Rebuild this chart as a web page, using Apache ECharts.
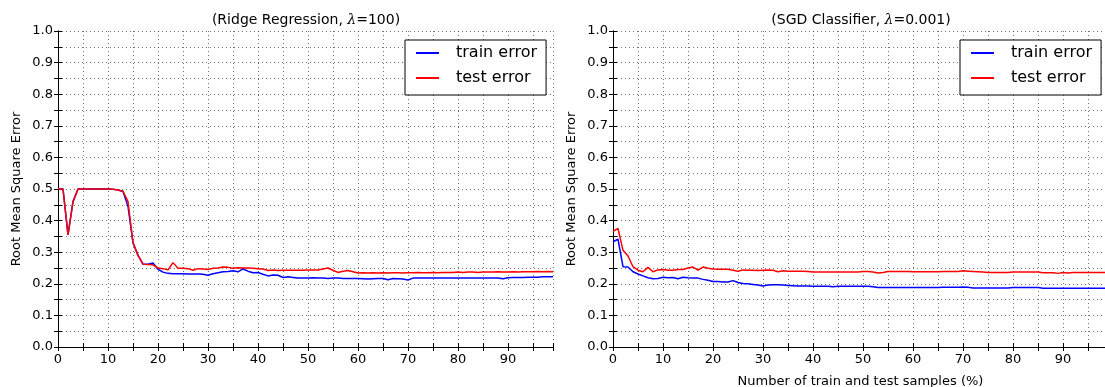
<!DOCTYPE html>
<html>
<head>
<meta charset="utf-8">
<title>Learning curves</title>
<script src="https://cdn.jsdelivr.net/npm/echarts@6/dist/echarts.min.js"></script>
<style>
  html, body { margin: 0; padding: 0; background: #fff; }
  #learning-curves { width: 1105px; height: 387px; }
</style>
</head>
<body>
<div id="learning-curves"></div>
<script>
"use strict";

// ------------------------------
// Data (x = % of train and test samples, 0..99)
// ------------------------------
var seriesNames = ['train error', 'test error'];
var xTickLabels = [0, 10, 20, 30, 40, 50, 60, 70, 80, 90];
var yTickLabels = ['0.0', '0.1', '0.2', '0.3', '0.4', '0.5', '0.6', '0.7', '0.8', '0.9', '1.0'];

// Ridge Regression, lambda = 100
var ridgeTrain = [
    0.500, 0.500, 0.355, 0.460, 0.500, 0.500, 0.500, 0.500, 0.500, 0.500,
    0.500, 0.499, 0.497, 0.492, 0.445, 0.330, 0.290, 0.262, 0.262, 0.266,
    0.246, 0.237, 0.233, 0.232, 0.232, 0.232, 0.231, 0.231, 0.231, 0.230,
    0.227, 0.232, 0.235, 0.238, 0.239, 0.241, 0.238, 0.247, 0.240, 0.235,
    0.236, 0.230, 0.225, 0.228, 0.227, 0.220, 0.222, 0.220, 0.218, 0.218,
    0.218, 0.219, 0.218, 0.218, 0.217, 0.218, 0.218, 0.217, 0.217, 0.217,
    0.217, 0.216, 0.215, 0.216, 0.217, 0.217, 0.213, 0.217, 0.216, 0.215,
    0.212, 0.218, 0.218, 0.218, 0.218, 0.218, 0.218, 0.218, 0.218, 0.218,
    0.218, 0.218, 0.218, 0.218, 0.218, 0.218, 0.218, 0.218, 0.218, 0.216,
    0.219, 0.220, 0.220, 0.220, 0.221, 0.221, 0.221, 0.222, 0.222, 0.222
];
var ridgeTest = [
    0.500, 0.500, 0.355, 0.460, 0.500, 0.500, 0.500, 0.500, 0.500, 0.500,
    0.500, 0.499, 0.497, 0.493, 0.460, 0.330, 0.290, 0.262, 0.261, 0.260,
    0.250, 0.248, 0.244, 0.267, 0.249, 0.249, 0.248, 0.243, 0.248, 0.247,
    0.245, 0.249, 0.250, 0.253, 0.252, 0.249, 0.251, 0.250, 0.250, 0.249,
    0.248, 0.247, 0.242, 0.244, 0.242, 0.243, 0.243, 0.243, 0.243, 0.243,
    0.244, 0.244, 0.244, 0.247, 0.250, 0.243, 0.236, 0.240, 0.242, 0.238,
    0.234, 0.235, 0.234, 0.235, 0.234, 0.235, 0.234, 0.235, 0.235, 0.234,
    0.235, 0.235, 0.236, 0.235, 0.235, 0.236, 0.235, 0.236, 0.236, 0.236,
    0.237, 0.236, 0.237, 0.237, 0.236, 0.237, 0.237, 0.237, 0.238, 0.237,
    0.237, 0.238, 0.237, 0.238, 0.238, 0.238, 0.239, 0.238, 0.239, 0.238
];

// SGD Classifier, lambda = 0.001
var sgdTrain = [
    0.333, 0.341, 0.254, 0.253, 0.238, 0.231, 0.225, 0.219, 0.216, 0.217,
    0.221, 0.219, 0.220, 0.216, 0.221, 0.219, 0.218, 0.218, 0.214, 0.211,
    0.207, 0.207, 0.206, 0.206, 0.210, 0.204, 0.201, 0.200, 0.198, 0.196,
    0.193, 0.196, 0.197, 0.197, 0.196, 0.195, 0.194, 0.193, 0.193, 0.193,
    0.192, 0.192, 0.192, 0.192, 0.191, 0.192, 0.192, 0.192, 0.192, 0.192,
    0.192, 0.192, 0.191, 0.188, 0.188, 0.188, 0.188, 0.188, 0.188, 0.188,
    0.188, 0.188, 0.188, 0.188, 0.188, 0.188, 0.189, 0.189, 0.189, 0.189,
    0.190, 0.189, 0.187, 0.187, 0.187, 0.187, 0.187, 0.187, 0.187, 0.187,
    0.188, 0.188, 0.188, 0.188, 0.188, 0.188, 0.186, 0.186, 0.186, 0.186,
    0.186, 0.186, 0.186, 0.186, 0.186, 0.186, 0.186, 0.186, 0.186, 0.186
];
var sgdTest = [
    0.366, 0.375, 0.306, 0.288, 0.254, 0.243, 0.238, 0.252, 0.238, 0.244,
    0.245, 0.243, 0.243, 0.245, 0.245, 0.250, 0.253, 0.243, 0.253, 0.249,
    0.247, 0.246, 0.246, 0.246, 0.243, 0.240, 0.244, 0.243, 0.243, 0.242,
    0.243, 0.244, 0.243, 0.238, 0.241, 0.240, 0.240, 0.240, 0.240, 0.239,
    0.237, 0.237, 0.237, 0.237, 0.237, 0.237, 0.237, 0.237, 0.237, 0.237,
    0.239, 0.239, 0.237, 0.234, 0.236, 0.239, 0.239, 0.239, 0.239, 0.239,
    0.238, 0.238, 0.238, 0.238, 0.238, 0.238, 0.239, 0.239, 0.239, 0.239,
    0.241, 0.240, 0.239, 0.238, 0.237, 0.236, 0.236, 0.236, 0.236, 0.236,
    0.237, 0.237, 0.237, 0.237, 0.237, 0.237, 0.235, 0.235, 0.235, 0.233,
    0.236, 0.234, 0.236, 0.236, 0.236, 0.236, 0.236, 0.236, 0.236, 0.236
];

// pair values with their sample percentage
function toPoints(values) {
    return values.map(function (v, i) { return [i, v]; });
}

var FONT = 'DejaVu Sans';
var gridDots = { show: true, lineStyle: { color: '#000', opacity: 0.55, width: 1, type: [1, 3] } };
// ticks point into the plot (matplotlib style)
var tickIn = { show: true, inside: true, length: 4, lineStyle: { color: '#000' } };

// x axis (bottom with labels, top only for ticks)
function xAxisFor(gridIndex, withLabels, withName) {
    return {
        type: 'value',
        gridIndex: gridIndex,
        position: withLabels ? 'bottom' : 'top',
        min: 0,
        max: 99,
        interval: 5,
        name: withName ? 'Number of train and test samples (%)' : '',
        nameLocation: 'middle',
        nameGap: 28,
        nameTextStyle: { color: '#000', fontSize: 13, fontFamily: FONT },
        axisLine: { show: true, lineStyle: { color: '#000', width: 1 } },
        axisTick: tickIn,
        axisLabel: {
            show: withLabels,
            color: '#000',
            fontSize: 13,
            fontFamily: FONT,
            margin: 6,
            formatter: function (v) {
                return xTickLabels.indexOf(v) >= 0 ? String(v) : '';
            }
        },
        splitLine: withLabels ? gridDots : { show: false }
    };
}

// y axis (left with labels, right only for ticks)
function yAxisFor(gridIndex, withLabels) {
    return {
        type: 'value',
        gridIndex: gridIndex,
        position: withLabels ? 'left' : 'right',
        min: 0,
        max: 1,
        interval: 0.05,
        name: withLabels ? 'Root Mean Square Error' : '',
        nameLocation: 'middle',
        nameGap: 35,
        nameTextStyle: { color: '#000', fontSize: 13, fontFamily: FONT },
        axisLine: { show: true, lineStyle: { color: '#000', width: 1 } },
        axisTick: tickIn,
        axisLabel: {
            show: withLabels,
            color: '#000',
            fontSize: 13,
            fontFamily: FONT,
            margin: 5,
            formatter: function (v) {
                var s = v.toFixed(2);
                return yTickLabels.indexOf(s.slice(0, 3)) >= 0 && s.charAt(3) === '0' ? s.slice(0, 3) : '';
            }
        },
        splitLine: withLabels ? gridDots : { show: false }
    };
}

function legendFor(left) {
    return {
        data: seriesNames,
        orient: 'vertical',
        left: left,
        top: 40,
        icon: 'rect',
        itemWidth: 23,
        itemHeight: 2,
        itemGap: 9,
        padding: [5, 9, 9, 11],
        backgroundColor: '#fff',
        borderColor: '#000',
        borderWidth: 1,
        borderRadius: 0,
        textStyle: { color: '#000', fontSize: 16, fontFamily: FONT, lineHeight: 16, padding: [0, 0, 0, 12] }
    };
}

function titleFor(text, centerX) {
    return {
        text: text,
        left: centerX,
        textAlign: 'center',
        top: 13,
        padding: 0,
        textStyle: {
            color: '#000', fontSize: 14, fontWeight: 'normal', fontFamily: FONT,
            rich: { i: { fontStyle: 'italic', fontSize: 14, fontFamily: 'DejaVu Serif', color: '#000' } }
        }
    };
}

function lineSeries(name, color, values, axisIndex) {
    return {
        name: name,
        type: 'line',
        xAxisIndex: axisIndex,
        yAxisIndex: axisIndex,
        symbol: 'none',
        showSymbol: false,
        lineStyle: { color: color, width: 1.5 },
        itemStyle: { color: color },
        data: toPoints(values)
    };
}

var curvesChart = echarts.init(document.getElementById('learning-curves'), null, { renderer: 'canvas' });

var option = {
    animation: false,
    backgroundColor: '#fff',

    // Titles
    title: [
        titleFor('(Ridge Regression, {i|λ}=100)', 306),
        titleFor('(SGD Classifier, {i|λ}=0.001)', 861)
    ],

    // Legends, one per panel
    legend: [legendFor(405), legendFor(960)],

    // Setup grids (fixed boxes, no auto shrinking)
    grid: [
        { left: 58, top: 31, width: 495, height: 316, containLabel: false, outerBoundsMode: 'none' },
        { left: 613, top: 31, width: 495, height: 316, containLabel: false, outerBoundsMode: 'none' }
    ],

    // Horizontal axes
    xAxis: [xAxisFor(0, true, false), xAxisFor(1, true, true), xAxisFor(0, false, false), xAxisFor(1, false, false)],

    // Vertical axes
    yAxis: [yAxisFor(0, true), yAxisFor(1, true), yAxisFor(0, false), yAxisFor(1, false)],

    // Add series
    series: [
        lineSeries('train error', '#0000ff', ridgeTrain, 0),
        lineSeries('test error', '#ff0000', ridgeTest, 0),
        lineSeries('train error', '#0000ff', sgdTrain, 1),
        lineSeries('test error', '#ff0000', sgdTest, 1)
    ]
};

curvesChart.setOption(option);
</script>
</body>
</html>
